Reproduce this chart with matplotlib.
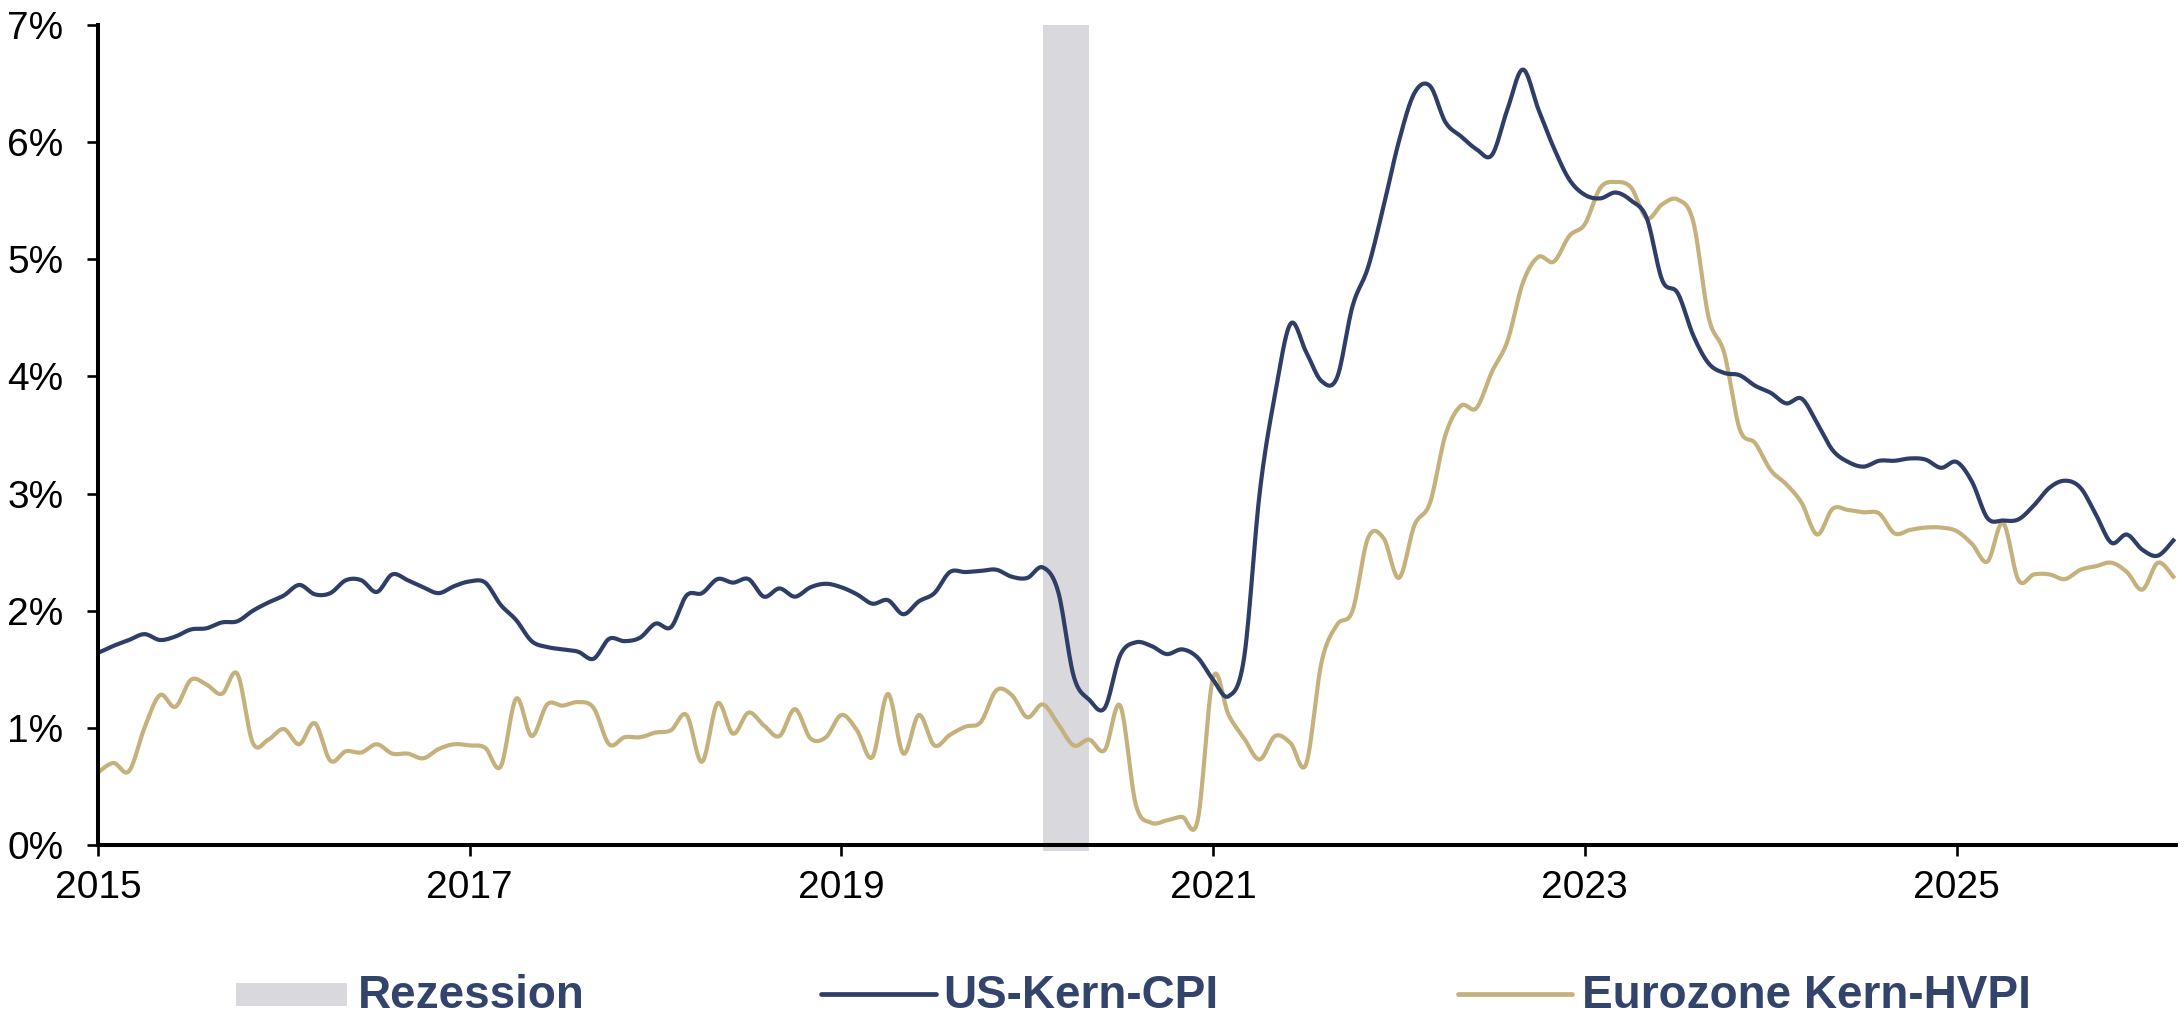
import numpy as np
import matplotlib
matplotlib.use("Agg")
import matplotlib.pyplot as plt
from matplotlib.patches import Rectangle
from matplotlib.lines import Line2D

plt.rcParams['font.family'] = ['Liberation Sans', 'DejaVu Sans']

# ---------------- data (monthly, starting Jan 2015) ----------------
start_year = 2015
us_core_cpi = [
    1.64, 1.70, 1.75, 1.80, 1.75, 1.78, 1.84, 1.85, 1.90, 1.91, 2.00, 2.07,   # 2015
    2.13, 2.22, 2.14, 2.15, 2.26, 2.26, 2.16, 2.31, 2.26, 2.20, 2.15, 2.21,   # 2016
    2.25, 2.24, 2.05, 1.92, 1.74, 1.69, 1.67, 1.65, 1.59, 1.76, 1.74, 1.77,   # 2017
    1.89, 1.86, 2.13, 2.15, 2.27, 2.24, 2.27, 2.12, 2.19, 2.12, 2.20, 2.23,   # 2018
    2.20, 2.14, 2.06, 2.09, 1.97, 2.08, 2.15, 2.33, 2.33, 2.34, 2.35, 2.29,   # 2019
    2.28, 2.37, 2.16, 1.44, 1.24, 1.17, 1.62, 1.73, 1.70, 1.63, 1.67, 1.60,   # 2020
    1.41, 1.27, 1.60, 3.00, 3.85, 4.45, 4.21, 3.96, 3.99, 4.60, 4.93, 5.45,   # 2021
    6.01, 6.42, 6.48, 6.17, 6.05, 5.94, 5.89, 6.28, 6.62, 6.28, 5.95, 5.68,   # 2022
    5.55, 5.52, 5.57, 5.50, 5.35, 4.82, 4.71, 4.35, 4.11, 4.03, 4.01, 3.92,   # 2023
    3.86, 3.77, 3.81, 3.60, 3.37, 3.27, 3.23, 3.28, 3.28, 3.30, 3.29, 3.22,   # 2024
    3.27, 3.10, 2.79, 2.77, 2.78, 2.90, 3.05, 3.11, 3.05, 2.82, 2.58, 2.65,   # 2025
    2.52, 2.47, 2.60,                                                         # 2026
]
ez_core_hicp = [
    0.62, 0.70, 0.63, 1.00, 1.28, 1.18, 1.41, 1.37, 1.29, 1.46, 0.87, 0.90,   # 2015
    0.99, 0.86, 1.04, 0.72, 0.80, 0.79, 0.86, 0.78, 0.78, 0.74, 0.82, 0.86,   # 2016
    0.85, 0.83, 0.67, 1.25, 0.93, 1.20, 1.19, 1.22, 1.17, 0.86, 0.92, 0.92,   # 2017
    0.96, 0.98, 1.11, 0.71, 1.21, 0.95, 1.13, 1.02, 0.93, 1.16, 0.91, 0.92,   # 2018
    1.11, 0.98, 0.75, 1.29, 0.78, 1.11, 0.85, 0.94, 1.01, 1.05, 1.32, 1.28,   # 2019
    1.09, 1.20, 1.03, 0.85, 0.90, 0.81, 1.19, 0.35, 0.19, 0.21, 0.24, 0.21,   # 2020
    1.43, 1.11, 0.91, 0.73, 0.93, 0.87, 0.69, 1.56, 1.88, 2.00, 2.62, 2.62,   # 2021
    2.28, 2.73, 2.92, 3.50, 3.75, 3.73, 4.04, 4.30, 4.80, 5.02, 4.98, 5.20,   # 2022
    5.30, 5.61, 5.66, 5.61, 5.35, 5.47, 5.51, 5.32, 4.50, 4.20, 3.55, 3.43,   # 2023
    3.20, 3.08, 2.92, 2.65, 2.87, 2.86, 2.84, 2.83, 2.66, 2.69, 2.71, 2.71,   # 2024
    2.68, 2.57, 2.42, 2.75, 2.26, 2.31, 2.31, 2.27, 2.35, 2.38, 2.41, 2.33,   # 2025
    2.18, 2.41, 2.29,                                                         # 2026
]
recession_months = ["2020-02", "2020-04"]          # first and last month (inclusive)
x_tick_years = [2015, 2017, 2019, 2021, 2023, 2025]
y_ticks = [0, 1, 2, 3, 4, 5, 6, 7]
legend_labels = ["Rezession", "US-Kern-CPI", "Eurozone Kern-HVPI"]

# ---------------- styling ----------------
US_COLOR = "#2E3E67"
EZ_COLOR = "#C4B17C"
REC_COLOR = "#D9D8DC"
TXT_COLOR = "#33446C"


def month_to_year(s):
    y, m = s.split("-")
    return int(y) + (int(m) - 1) / 12.0


def smooth(x, y, k=14):
    """Catmull-Rom smoothing through every data point (like Excel smoothed lines)."""
    P = np.column_stack([np.asarray(x, float), np.asarray(y, float)])
    E = np.vstack([P[0], P, P[-1]])
    t = np.linspace(0, 1, k, endpoint=False)[:, None]
    segs = []
    for i in range(len(P) - 1):
        p0, p1, p2, p3 = E[i], E[i + 1], E[i + 2], E[i + 3]
        pt = 0.5 * (2 * p1 + (-p0 + p2) * t + (2 * p0 - 5 * p1 + 4 * p2 - p3) * t ** 2
                    + (-p0 + 3 * p1 - 3 * p2 + p3) * t ** 3)
        segs.append(pt)
    segs.append(P[-1][None, :])
    S = np.vstack(segs)
    return S[:, 0], S[:, 1]


W, H = 2184, 1018
fig = plt.figure(figsize=(W / 100, H / 100), dpi=100)
ax_left, ax_right, ax_top, ax_bottom = 98, 2176, 25, 845
ax = fig.add_axes([ax_left / W, 1 - ax_bottom / H, (ax_right - ax_left) / W, (ax_bottom - ax_top) / H])

x_us = start_year + np.arange(len(us_core_cpi)) / 12.0
x_ez = start_year + np.arange(len(ez_core_hicp)) / 12.0

# recession shading
r0 = month_to_year(recession_months[0])
r1 = month_to_year(recession_months[1]) + 1 / 12.0
ax.axvspan(r0, r1, ymin=-0.007, ymax=1, color=REC_COLOR, lw=0, zorder=1, clip_on=False)

sx, sy = smooth(x_ez, ez_core_hicp)
ax.plot(sx, sy, color=EZ_COLOR, lw=3.0, zorder=3, solid_joinstyle='round')
sx, sy = smooth(x_us, us_core_cpi)
ax.plot(sx, sy, color=US_COLOR, lw=3.0, zorder=4, solid_joinstyle='round')

ax.set_xlim(2015, 2015 + (ax_right - 97.5) / 185.9)
ax.set_ylim(0, 7)
ax.set_xticks(x_tick_years)
ax.set_xticklabels([str(y) for y in x_tick_years])
ax.set_yticks(y_ticks)
ax.set_yticklabels([f"{v}%" for v in y_ticks])

for s in ["top", "right"]:
    ax.spines[s].set_visible(False)
for s in ["left", "bottom"]:
    ax.spines[s].set_linewidth(2.9)
    ax.spines[s].set_color("black")
    ax.spines[s].set_zorder(5)

ax.tick_params(axis="both", direction="out", length=8, width=1.9, labelsize=28, colors="black")
ax.tick_params(axis="y", pad=17)
ax.tick_params(axis="x", pad=10)

# ---------------- legend (bottom) ----------------
def fx(px):
    return px / W


def fy(py):
    return 1 - py / H


fig.add_artist(Rectangle((fx(236), fy(1006)), fx(347) - fx(236), fy(983) - fy(1006),
                         transform=fig.transFigure, color=REC_COLOR, lw=0))
fig.add_artist(Line2D([fx(821), fx(936)], [fy(994), fy(994)], transform=fig.transFigure,
                      color=US_COLOR, lw=3.4, solid_capstyle="round"))
fig.add_artist(Line2D([fx(1458), fx(1572)], [fy(994), fy(994)], transform=fig.transFigure,
                      color=EZ_COLOR, lw=3.4, solid_capstyle="round"))
for xpx, lab in zip([358, 943, 1582], legend_labels):
    fig.text(fx(xpx), fy(1008), lab, fontsize=33, fontweight="bold", color=TXT_COLOR,
             ha="left", va="baseline")

fig.savefig("out.png", dpi=100)
